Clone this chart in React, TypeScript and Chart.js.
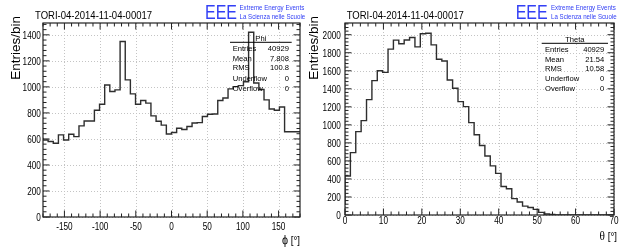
import React, { useEffect, useRef } from 'react';
import { Chart, registerables } from 'chart.js';

Chart.register(...registerables);

// ---------- data ----------
const RUN_TITLE = 'TORI-04-2014-11-04-00017';
const LOGO_BIG = 'EEE';
const LOGO_LINE1 = 'Extreme Energy Events';
const LOGO_LINE2 = 'La Scienza nelle Scuole';
const Y_TITLE = 'Entries/bin';

const phiRange = [-180, 180];
const phiCounts = [
  610, 592, 580, 567, 631, 592, 636, 618, 700, 738,
  738, 820, 867, 1015, 964, 977, 1349, 1054, 946, 867,
  895, 875, 777, 736, 706, 638, 650, 682, 672, 695,
  722, 725, 772, 790, 792, 895, 915, 985, 1002, 1010,
  1040, 1420, 1030, 980, 900, 830, 820, 845, 655, 655,
];
const phiXTicks = [-150, -100, -50, 0, 50, 100, 150];
const phiYTicks = [0, 200, 400, 600, 800, 1000, 1200, 1400];
const phiStatsTitle = 'Phi';
const phiStatsValues = ['40929', '7.808', '100.8', '0', '0'];

const thetaRange = [0, 70];
const thetaCounts = [
  111, 433, 692, 925, 1047, 1280, 1491, 1600, 1582, 1840,
  1940, 1899, 1941, 1969, 1865, 2010, 2017, 1887, 1728, 1709,
  1498, 1406, 1258, 1202, 1025, 891, 771, 655, 545, 462,
  316, 291, 182, 145, 98, 84, 62, 29, 11, 7,
  0, 0, 0, 0, 0, 0, 0, 0, 0, 0,
];
const thetaXTicks = [0, 10, 20, 30, 40, 50, 60, 70];
const thetaYTicks = [0, 200, 400, 600, 800, 1000, 1200, 1400, 1600, 1800, 2000];
const thetaStatsTitle = 'Theta';
const thetaStatsValues = ['40929', '21.54', '10.58', '0', '0'];

const statsLabels = ['Entries', 'Mean', 'RMS', 'Underflow', 'Overflow'];

// ---------- style / layout ----------
const SANS = "'Liberation Sans', Arial, sans-serif";
const SERIF = "'Liberation Serif', 'DejaVu Serif', serif";
const BLUE = '#3340f5';
const H = 248;

type Panel = {
  canvasLeft: number;
  width: number;
  area: { left: number; right: number; top: number; bottom: number };
  yMax: number;
  xMinor: number;
  yMinor: number;
  yLabelRight: number;
  xLabelBase: number;
  titleX: number; titleY: number;
  logoX: number; logoTextX: number;
  yTitleX: number;
  stats: { x0: number; x1: number; lineY: number; headY: number; labelX: number; valueX: number; rows: number[] };
  xTitle: string; xTitleSerif: boolean; xTitleRight: number; xTitleY: number;
};

const leftPanel: Panel = {
  canvasLeft: 0, width: 311,
  area: { left: 43, right: 300, top: 23, bottom: 217 },
  yMax: 1491, xMinor: 10, yMinor: 40, yLabelRight: 40.8, xLabelBase: 229.8,
  titleX: 35, titleY: 18.5, logoX: 205, logoTextX: 239.5, yTitleX: 19.5,
  stats: { x0: 230, x1: 291.7, lineY: 42.3, headY: 40.5, labelX: 232.7, valueX: 289, rows: [51, 60.5, 70, 80.5, 90.5] },
  xTitle: '\u03D5', xTitleSerif: false, xTitleRight: 300, xTitleY: 244,
};

const rightPanel: Panel = {
  canvasLeft: 300, width: 323,
  area: { left: 345, right: 614, top: 23, bottom: 215 },
  yMax: 2130, xMinor: 2, yMinor: 40, yLabelRight: 340.8, xLabelBase: 224,
  titleX: 346.7, titleY: 19, logoX: 515.7, logoTextX: 551, yTitleX: 317.5,
  stats: { x0: 541.7, x1: 608, lineY: 43.3, headY: 41.5, labelX: 545, valueX: 604.3, rows: [52.3, 61.5, 71, 81.3, 91] },
  xTitle: '\u03B8', xTitleSerif: true, xTitleRight: 617, xTitleY: 239.5,
};

function stepPoints(counts: number[], range: number[]) {
  const w = (range[1] - range[0]) / counts.length;
  const pts = counts.map((c, i) => ({ x: range[0] + i * w, y: c }));
  pts.push({ x: range[1], y: counts[counts.length - 1] });
  return pts;
}

function squeezed(ctx: CanvasRenderingContext2D, text: string, x: number, y: number, align: CanvasTextAlign, sx: number) {
  ctx.save();
  ctx.translate(x, y);
  ctx.scale(sx, 1);
  ctx.textAlign = align;
  ctx.fillText(text, 0, 0);
  ctx.restore();
}

function makeRootPlugin(p: Panel, statsTitle: string, statsValues: string[], xTicks: number[], yTicks: number[]) {
  const off = p.canvasLeft;
  return {
    id: 'rootStyle',
    beforeDatasetsDraw(chart: any) {
      const { ctx, chartArea: a } = chart;
      const xs = chart.scales.x, ys = chart.scales.y;
      ctx.save();
      ctx.strokeStyle = '#c4c4c4';
      ctx.lineWidth = 1;
      ctx.setLineDash([1, 2]);
      for (const v of xTicks) {
        const x = Math.round(xs.getPixelForValue(v)) + 0.5;
        ctx.beginPath(); ctx.moveTo(x, a.top); ctx.lineTo(x, a.bottom); ctx.stroke();
      }
      for (const v of yTicks) {
        const y = Math.round(ys.getPixelForValue(v)) + 0.5;
        ctx.beginPath(); ctx.moveTo(a.left, y); ctx.lineTo(a.right, y); ctx.stroke();
      }
      ctx.restore();
    },
    afterDatasetsDraw(chart: any) {
      const { ctx, chartArea: a } = chart;
      const xs = chart.scales.x, ys = chart.scales.y;
      ctx.save();
      ctx.strokeStyle = '#222';
      ctx.lineWidth = 1.2;
      ctx.strokeRect(a.left, a.top, a.right - a.left, a.bottom - a.top);
      ctx.lineWidth = 1;
      const major = 6.5, minor = 3.5;
      const isMajorX = (v: number) => xTicks.some((t) => Math.abs(t - v) < 1e-6);
      const isMajorY = (v: number) => yTicks.some((t) => Math.abs(t - v) < 1e-6);
      ctx.beginPath();
      for (let v = Math.ceil(xs.min / p.xMinor) * p.xMinor; v <= xs.max + 1e-9; v += p.xMinor) {
        const x = xs.getPixelForValue(v);
        const len = isMajorX(v) ? major : minor;
        ctx.moveTo(x, a.bottom); ctx.lineTo(x, a.bottom - len);
        ctx.moveTo(x, a.top); ctx.lineTo(x, a.top + len);
      }
      for (let v = 0; v <= ys.max + 1e-9; v += p.yMinor) {
        const y = ys.getPixelForValue(v);
        const len = isMajorY(v) ? major : minor;
        ctx.moveTo(a.left, y); ctx.lineTo(a.left + len, y);
        ctx.moveTo(a.right, y); ctx.lineTo(a.right - len, y);
      }
      ctx.stroke();
      ctx.restore();
    },
    afterDraw(chart: any) {
      const { ctx } = chart;
      const xs = chart.scales.x, ys = chart.scales.y;
      ctx.save();
      ctx.fillStyle = '#000';
      ctx.textBaseline = 'alphabetic';
      // tick labels (positions from the chart scales)
      ctx.font = `10.5px ${SANS}`;
      for (const v of yTicks) {
        squeezed(ctx, String(v), p.yLabelRight - off, ys.getPixelForValue(v) + 3.8, 'right', 0.78);
      }
      for (const v of xTicks) {
        squeezed(ctx, String(v), xs.getPixelForValue(v), p.xLabelBase, 'center', 0.78);
      }
      // run title
      ctx.font = `11px ${SANS}`;
      squeezed(ctx, RUN_TITLE, p.titleX - off, p.titleY, 'left', 0.865);
      // logo
      ctx.fillStyle = BLUE;
      ctx.font = `20px ${SANS}`;
      squeezed(ctx, LOGO_BIG, p.logoX - off, 19, 'left', 0.8);
      ctx.font = `7px ${SANS}`;
      squeezed(ctx, LOGO_LINE1, p.logoTextX - off, 10, 'left', 0.88);
      squeezed(ctx, LOGO_LINE2, p.logoTextX - off, 18.5, 'left', 0.88);
      // y title
      ctx.fillStyle = '#000';
      ctx.save();
      ctx.translate(p.yTitleX - off, 16);
      ctx.rotate(-Math.PI / 2);
      ctx.font = `13.5px ${SANS}`;
      ctx.textAlign = 'right';
      ctx.fillText(Y_TITLE, 0, 0);
      ctx.restore();
      // x title
      ctx.font = `11.5px ${SANS}`;
      const rest = ' [\u00B0]';
      const restW = ctx.measureText(rest).width * 0.85;
      squeezed(ctx, rest, p.xTitleRight - off, p.xTitleY, 'right', 0.85);
      ctx.font = p.xTitleSerif ? `12.5px ${SERIF}` : `12px ${SANS}`;
      squeezed(ctx, p.xTitle, p.xTitleRight - off - restW, p.xTitleY, 'right', 0.9);
      // stats box
      const s = p.stats;
      ctx.strokeStyle = '#000';
      ctx.lineWidth = 1;
      ctx.beginPath();
      ctx.moveTo(s.x0 - off, s.lineY); ctx.lineTo(s.x1 - off, s.lineY);
      ctx.stroke();
      ctx.font = `8px ${SANS}`;
      squeezed(ctx, statsTitle, (s.x0 + s.x1) / 2 - off, s.headY, 'center', 0.95);
      statsLabels.forEach((lab, i) => {
        squeezed(ctx, lab, s.labelX - off, s.rows[i], 'left', 0.95);
        squeezed(ctx, statsValues[i], s.valueX - off, s.rows[i], 'right', 0.95);
      });
      ctx.restore();
    },
  };
}

function HistPanel(props: {
  panel: Panel; counts: number[]; range: number[]; xTicks: number[]; yTicks: number[];
  statsTitle: string; statsValues: string[];
}) {
  const ref = useRef<HTMLCanvasElement | null>(null);
  useEffect(() => {
    const { panel: p, counts, range, xTicks, yTicks, statsTitle, statsValues } = props;
    const canvas = ref.current!;
    const area = {
      left: p.area.left - p.canvasLeft,
      right: p.area.right - p.canvasLeft,
      top: p.area.top,
      bottom: p.area.bottom,
    };
    const chart = new Chart(canvas, {
      type: 'line',
      data: {
        datasets: [{
          data: stepPoints(counts, range),
          stepped: 'after',
          borderColor: '#2e2e2e',
          borderWidth: 1.4,
          pointRadius: 0,
          fill: false,
        }],
      },
      options: {
        animation: false,
        responsive: false,
        maintainAspectRatio: false,
        devicePixelRatio: 1,
        layout: { padding: { left: 0, top: area.top, right: p.width - area.right, bottom: 0 } },
        plugins: { legend: { display: false }, tooltip: { enabled: false }, title: { display: false } },
        scales: {
          x: {
            type: 'linear',
            min: range[0],
            max: range[1],
            grid: { display: false, drawTicks: false },
            border: { display: false },
            ticks: { display: false },
            afterBuildTicks: (s: any) => { s.ticks = xTicks.map((v) => ({ value: v })); },
            afterFit: (s: any) => { s.height = H - area.bottom; },
          },
          y: {
            type: 'linear',
            min: 0,
            max: p.yMax,
            grid: { display: false, drawTicks: false },
            border: { display: false },
            ticks: { display: false },
            afterBuildTicks: (s: any) => { s.ticks = yTicks.map((v) => ({ value: v })); },
            afterFit: (s: any) => { s.width = area.left; },
          },
        },
      } as any,
      plugins: [makeRootPlugin(p, statsTitle, statsValues, xTicks, yTicks)],
    });
    return () => chart.destroy();
  }, []);
  const p = props.panel;
  return (
    <canvas
      ref={ref}
      width={p.width}
      height={H}
      style={{ position: 'absolute', left: p.canvasLeft, top: 0, width: p.width, height: H }}
    />
  );
}

export default function App() {
  useEffect(() => {
    document.body.style.margin = '0';
    document.body.style.background = '#fff';
  }, []);
  return (
    <div style={{ position: 'relative', width: 623, height: H, background: '#fff', overflow: 'hidden' }}>
      <HistPanel panel={leftPanel} counts={phiCounts} range={phiRange} xTicks={phiXTicks} yTicks={phiYTicks}
        statsTitle={phiStatsTitle} statsValues={phiStatsValues} />
      <HistPanel panel={rightPanel} counts={thetaCounts} range={thetaRange} xTicks={thetaXTicks} yTicks={thetaYTicks}
        statsTitle={thetaStatsTitle} statsValues={thetaStatsValues} />
    </div>
  );
}
